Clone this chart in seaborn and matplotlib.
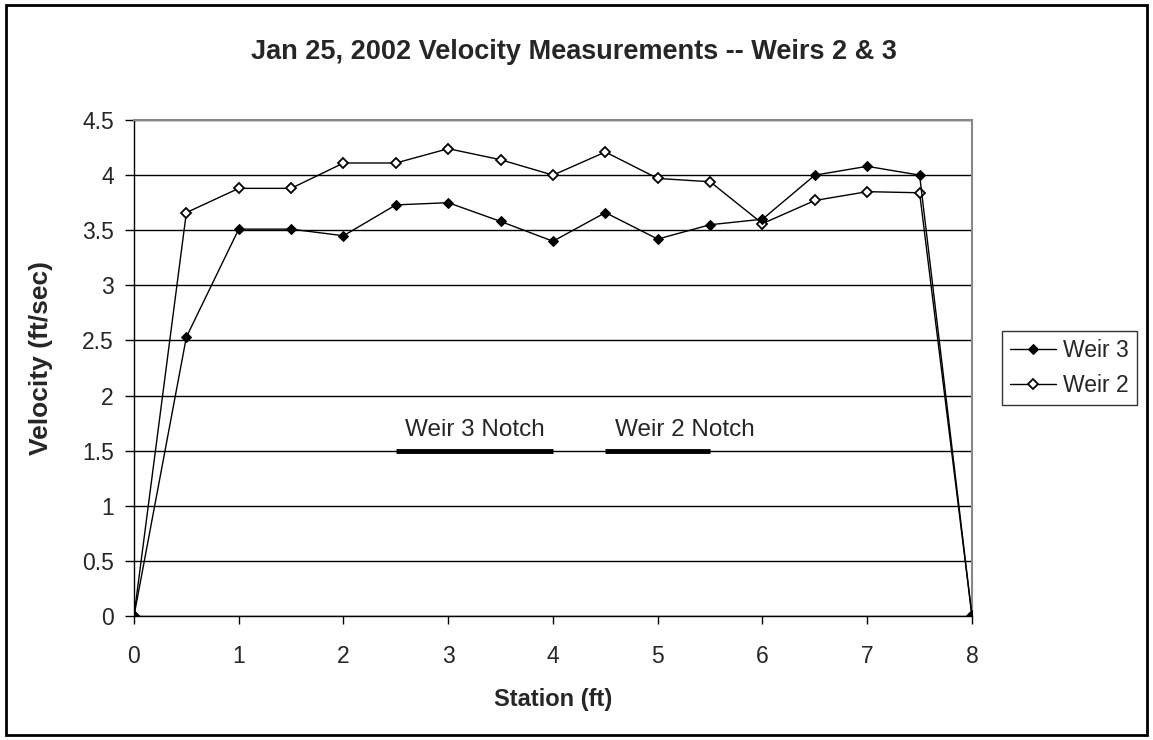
import matplotlib
matplotlib.use("Agg")
import matplotlib.pyplot as plt
import seaborn as sns
import pandas as pd
from matplotlib.patches import Rectangle

# station (ft) and velocities (ft/sec)
station = [0, 0.5, 1, 1.5, 2, 2.5, 3, 3.5, 4, 4.5, 5, 5.5, 6, 6.5, 7, 7.5, 8]
weir3 = [0, 2.53, 3.51, 3.51, 3.45, 3.73, 3.75, 3.58, 3.40, 3.66, 3.42, 3.55, 3.60, 4.00, 4.08, 4.00, 0]
weir2 = [0, 3.66, 3.88, 3.88, 4.11, 4.11, 4.24, 4.14, 4.00, 4.21, 3.97, 3.94, 3.56, 3.77, 3.85, 3.84, 0]

# notch extents drawn as thick bars at 1.5
notch_labels = ["Weir 3 Notch", "Weir 2 Notch"]
notch_start = [2.5, 4.5]
notch_end = [4.0, 5.5]
notch_level = 1.5

sns.set_style("white")
plt.rcParams['font.family'] = ['Liberation Sans', 'DejaVu Sans']

fig = plt.figure(figsize=(11.53, 7.40), dpi=100)
ax = fig.add_axes([0.1162, 0.1676, 0.843 - 0.1162, 0.8378 - 0.1676])

df = pd.DataFrame({'Station': station, 'Weir 3': weir3, 'Weir 2': weir2})

sns.lineplot(data=df, x='Station', y='Weir 3', ax=ax, color='black', lw=1,
             marker='D', markersize=5, markerfacecolor='black',
             markeredgecolor='black', label='Weir 3', zorder=4)
sns.lineplot(data=df, x='Station', y='Weir 2', ax=ax, color='black', lw=1,
             marker='D', markersize=5, markerfacecolor='white',
             markeredgecolor='black', markeredgewidth=1.3, label='Weir 2', zorder=3)

# notch bars and labels
for lab, s, e in zip(notch_labels, notch_start, notch_end):
    ax.plot([s, e], [notch_level, notch_level], color='black', lw=3.5,
            solid_capstyle='butt', zorder=5)
    ax.text(s + 0.09, notch_level + 0.09, lab, fontsize=17.5, ha='left', va='bottom')

ax.set_xlim(0, 8)
ax.set_ylim(0, 4.5)
ax.set_xticks(range(0, 9))
ax.set_yticks([i * 0.5 for i in range(10)])
ax.set_yticklabels(['0', '0.5', '1', '1.5', '2', '2.5', '3', '3.5', '4', '4.5'])
ax.yaxis.grid(True, color='black', lw=1)
ax.xaxis.grid(False)
ax.set_axisbelow(True)

for side in ['top', 'right']:
    ax.spines[side].set_color('#888888')
    ax.spines[side].set_linewidth(1.5)
for side in ['left', 'bottom']:
    ax.spines[side].set_color('black')
    ax.spines[side].set_linewidth(1)

ax.tick_params(axis='y', direction='out', length=6.5, width=1, color='black',
               labelsize=16.5, pad=8, left=True)
ax.tick_params(axis='x', direction='out', length=6, width=1, color='black',
               labelsize=16.5, pad=15, bottom=True)

ax.set_xlabel('Station (ft)', fontsize=17, fontweight='bold', labelpad=14)
ax.set_ylabel('Velocity (ft/sec)', fontsize=19, fontweight='bold')
ax.yaxis.set_label_coords(-0.097, 0.52)
fig.suptitle('Jan 25, 2002 Velocity Measurements -- Weirs 2 & 3', x=0.498, y=0.947,
             fontsize=19.5, fontweight='bold')

leg = ax.legend(loc='center left', bbox_to_anchor=(1.036, 0.5), frameon=True,
                fancybox=False, edgecolor='black', fontsize=16.5,
                handlelength=2.0, handletextpad=0.3, borderpad=0.35,
                labelspacing=0.5, borderaxespad=0)
leg.get_frame().set_linewidth(1)

# outer chart border
fig.patches.append(Rectangle((0.005, 0.007), 0.99, 0.986, transform=fig.transFigure,
                             fill=False, edgecolor='black', lw=2))

fig.savefig('out.png', dpi=100)
